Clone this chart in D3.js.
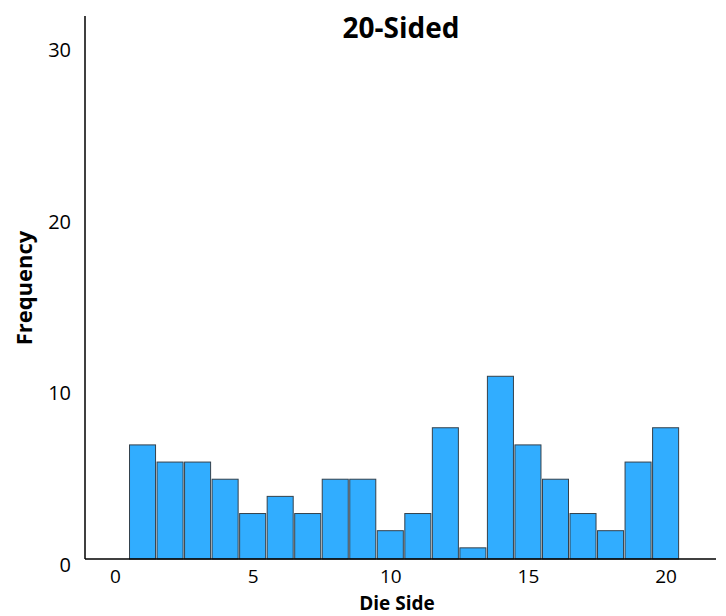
<!DOCTYPE html>
<html>
<head>
<meta charset="utf-8">
<script src="https://cdn.jsdelivr.net/npm/d3@7"></script>
<style>
  body { margin: 0; background: #fff; }
  svg { display: block; }
  text { font-family: "Open Sans", "Liberation Sans", sans-serif; fill: #000; }
</style>
</head>
<body>
<svg id="chart" width="726" height="616"></svg>
<script>
// ---- data ----
const sides = [1,2,3,4,5,6,7,8,9,10,11,12,13,14,15,16,17,18,19,20];
const frequencies = [7,6,6,5,3,4,3,5,5,2,3,8,1,11,7,5,3,2,6,8];
const xTicks = [0,5,10,15,20];
const yTicks = [0,10,20,30];
const titleText = "20-Sided";
const xLabel = "Die Side";
const yLabel = "Frequency";

// ---- layout ----
const W = 726, H = 616;
const axisX = 85, axisTop = 16, axisRight = 716, baseY = 559;

const svg = d3.select("#chart");

const x = d3.scaleLinear().domain([0, 20]).range([115, 665.6]);
const y = d3.scaleLinear().domain([0, 32]).range([565, 16]);

// bars
svg.append("g").selectAll("rect")
  .data(sides.map((s, i) => ({ s, v: frequencies[i] })))
  .join("rect")
  .attr("x", d => x(d.s - 0.5) + 0.75)
  .attr("width", d => x(d.s + 0.5) - x(d.s - 0.5) - 1.5)
  .attr("y", d => y(d.v))
  .attr("height", d => baseY - y(d.v))
  .attr("fill", "#31adff")
  .attr("stroke", "#34414c")
  .attr("stroke-width", 1);

// y axis
const yAxis = svg.append("g")
  .attr("transform", `translate(${axisX},0)`)
  .call(d3.axisLeft(y).tickValues(yTicks).tickSize(0).tickPadding(14).tickFormat(d3.format("d")));
yAxis.select(".domain").remove();
yAxis.selectAll("text").style("font-size", "20px").style("font-family", "'Open Sans', sans-serif").attr("fill", "#000");

// x axis
const xAxis = svg.append("g")
  .attr("transform", `translate(0,${baseY})`)
  .call(d3.axisBottom(x).tickValues(xTicks).tickSize(0).tickPadding(10.5).tickFormat(d3.format("d")));
xAxis.select(".domain").remove();
xAxis.selectAll("text").style("font-size", "19px").style("font-family", "'Open Sans', sans-serif").attr("fill", "#000");

// axis lines
svg.append("line")
  .attr("x1", axisX).attr("x2", axisX)
  .attr("y1", axisTop).attr("y2", baseY)
  .attr("stroke", "#000").attr("stroke-width", 1.5);
svg.append("line")
  .attr("x1", axisX).attr("x2", axisRight)
  .attr("y1", baseY).attr("y2", baseY)
  .attr("stroke", "#000").attr("stroke-width", 1.5);

// title
svg.append("text")
  .attr("x", 401).attr("y", 38)
  .attr("text-anchor", "middle")
  .style("font-size", "28px").style("font-weight", "bold")
  .text(titleText);

// x label
svg.append("text")
  .attr("x", 397).attr("y", 610)
  .attr("text-anchor", "middle")
  .style("font-size", "19px").style("font-weight", "bold")
  .text(xLabel);

// y label
svg.append("text")
  .attr("transform", "translate(32,288) rotate(-90)")
  .attr("text-anchor", "middle")
  .style("font-size", "22px").style("font-weight", "bold")
  .text(yLabel);
</script>
</body>
</html>
